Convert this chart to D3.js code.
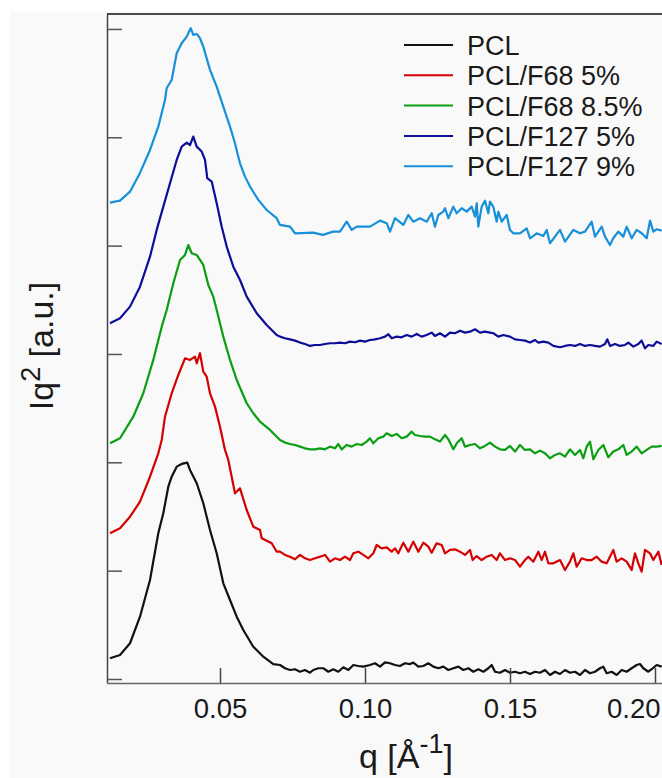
<!DOCTYPE html>
<html>
<head>
<meta charset="utf-8">
<script src="https://cdn.jsdelivr.net/npm/d3@7"></script>
<style>
  html, body { margin: 0; padding: 0; background: #ffffff; }
  svg { display: block; font-family: "Liberation Sans", Arial, sans-serif; }
</style>
</head>
<body>
<svg id="chart" width="662" height="778"></svg>
<script>
// SAXS Kratky-type profiles, Iq^2 vs q, curves stacked with vertical offsets.
const seriesNames = ["PCL", "PCL/F68 5%", "PCL/F68 8.5%", "PCL/F127 5%", "PCL/F127 9%"];
const xTickValues = [0.05, 0.10, 0.15, 0.20];
const xTickLabels = ["0.05", "0.10", "0.15", "0.20"];
const yTickValues = [0, 1, 2, 3, 4, 5, 6];

// [q (1/Å), Iq^2 (a.u., offset)]
const pcl = [
  [0.01207,0.191],[0.01552,0.222],[0.01897,0.330],[0.02241,0.575],[0.02586,0.914],[0.02872,1.345],
  [0.03045,1.530],[0.03217,1.775],[0.03334,1.867],[0.03507,1.960],[0.03679,1.985],[0.03872,1.997],
  [0.03966,1.929],[0.04197,1.807],[0.04424,1.622],[0.04655,1.375],[0.04886,1.160],[0.05114,0.883],
  [0.05345,0.729],[0.05576,0.575],[0.05803,0.452],[0.06148,0.298],[0.06493,0.206],[0.06838,0.138],
  [0.07069,0.129],[0.07241,0.099],[0.07414,0.083],[0.07586,0.090],[0.07759,0.067],[0.07931,0.083],
  [0.08103,0.058],[0.08218,0.083],[0.08391,0.099],[0.08563,0.099],[0.08736,0.067],[0.08908,0.090],
  [0.09080,0.067],[0.09253,0.108],[0.09425,0.083],[0.09598,0.129],[0.09770,0.120],[0.09943,0.114],
  [0.10172,0.129],[0.10345,0.145],[0.10517,0.114],[0.10690,0.154],[0.10862,0.145],[0.11034,0.129],
  [0.11207,0.120],[0.11379,0.145],[0.11552,0.138],[0.11667,0.151],[0.11839,0.114],[0.12011,0.120],
  [0.12184,0.145],[0.12356,0.114],[0.12529,0.099],[0.12701,0.114],[0.12874,0.083],[0.13046,0.099],
  [0.13218,0.114],[0.13391,0.083],[0.13563,0.099],[0.13736,0.067],[0.13908,0.090],[0.14080,0.067],
  [0.14253,0.099],[0.14368,0.129],[0.14483,0.067],[0.14655,0.058],[0.14828,0.083],[0.15000,0.058],
  [0.15172,0.067],[0.15345,0.053],[0.15517,0.067],[0.15690,0.046],[0.15862,0.067],[0.16034,0.058],
  [0.16207,0.083],[0.16379,0.037],[0.16552,0.067],[0.16724,0.046],[0.16897,0.083],[0.17069,0.058],
  [0.17241,0.067],[0.17414,0.037],[0.17586,0.083],[0.17759,0.053],[0.17931,0.067],[0.18103,0.099],
  [0.18218,0.114],[0.18333,0.053],[0.18506,0.067],[0.18678,0.037],[0.18851,0.083],[0.19023,0.067],
  [0.19195,0.099],[0.19368,0.129],[0.19483,0.138],[0.19598,0.099],[0.19770,0.067],[0.19885,0.090],
  [0.20057,0.129],[0.20230,0.114]
];
const f68p5 = [
  [0.01207,1.345],[0.01552,1.391],[0.01897,1.498],[0.02241,1.637],[0.02586,1.867],[0.02872,2.083],
  [0.02990,2.206],[0.03103,2.421],[0.03334,2.637],[0.03562,2.806],[0.03793,2.960],[0.03966,2.945],
  [0.04138,2.975],[0.04197,2.914],[0.04310,3.007],[0.04424,2.837],[0.04541,2.791],[0.04655,2.637],
  [0.04828,2.514],[0.05000,2.329],[0.05172,2.114],[0.05286,2.022],[0.05517,1.714],[0.05690,1.760],
  [0.05921,1.560],[0.06148,1.406],[0.06379,1.375],[0.06438,1.299],[0.06783,1.253],[0.06955,1.175],
  [0.07069,1.175],[0.07241,1.145],[0.07414,1.129],[0.07586,1.105],[0.07759,1.145],[0.07931,1.114],
  [0.08103,1.098],[0.08276,1.114],[0.08448,1.129],[0.08621,1.145],[0.08793,1.083],[0.08966,1.114],
  [0.09138,1.098],[0.09310,1.129],[0.09483,1.098],[0.09598,1.160],[0.09770,1.175],[0.09943,1.145],
  [0.10115,1.114],[0.10287,1.160],[0.10402,1.237],[0.10575,1.206],[0.10747,1.215],[0.10920,1.175],
  [0.11034,1.206],[0.11149,1.160],[0.11322,1.258],[0.11494,1.175],[0.11667,1.268],[0.11839,1.175],
  [0.12011,1.258],[0.12184,1.222],[0.12299,1.166],[0.12471,1.252],[0.12644,1.237],[0.12759,1.160],
  [0.12931,1.191],[0.13103,1.197],[0.13276,1.175],[0.13448,1.145],[0.13621,1.191],[0.13713,1.098],
  [0.13851,1.135],[0.14023,1.098],[0.14195,1.129],[0.14368,1.145],[0.14540,1.098],[0.14655,1.160],
  [0.14828,1.098],[0.15000,1.114],[0.15172,1.098],[0.15345,1.037],[0.15517,1.098],[0.15632,1.129],
  [0.15805,1.083],[0.15977,1.175],[0.16092,1.098],[0.16207,1.175],[0.16322,1.068],[0.16494,1.068],
  [0.16724,1.098],[0.16897,1.006],[0.17069,1.083],[0.17184,1.160],[0.17299,1.037],[0.17471,1.114],
  [0.17644,1.098],[0.17816,1.098],[0.17989,1.129],[0.18161,1.083],[0.18333,1.068],[0.18563,1.191],
  [0.18678,1.083],[0.18851,1.114],[0.19023,1.083],[0.19195,1.006],[0.19310,1.160],[0.19425,1.068],
  [0.19540,0.991],[0.19655,1.191],[0.19828,1.160],[0.19943,1.098],[0.20115,1.175],[0.20230,1.052]
];
const f68p85 = [
  [0.01207,2.176],[0.01552,2.222],[0.02010,2.421],[0.02355,2.637],[0.02700,2.945],[0.02990,3.252],
  [0.03162,3.406],[0.03390,3.653],[0.03621,3.868],[0.03793,3.914],[0.03907,4.006],[0.04024,3.930],
  [0.04197,3.914],[0.04424,3.822],[0.04597,3.637],[0.04769,3.529],[0.04886,3.406],[0.05114,3.160],
  [0.05345,2.945],[0.05576,2.760],[0.05921,2.545],[0.06148,2.453],[0.06379,2.375],[0.06724,2.299],
  [0.07069,2.206],[0.07241,2.182],[0.07414,2.169],[0.07586,2.160],[0.07759,2.145],[0.07931,2.129],
  [0.08103,2.120],[0.08276,2.120],[0.08448,2.129],[0.08621,2.120],[0.08793,2.145],[0.08966,2.129],
  [0.09080,2.169],[0.09195,2.120],[0.09368,2.160],[0.09540,2.145],[0.09713,2.169],[0.09885,2.160],
  [0.10057,2.191],[0.10172,2.222],[0.10287,2.175],[0.10460,2.222],[0.10632,2.237],[0.10747,2.268],
  [0.10920,2.243],[0.11092,2.262],[0.11264,2.222],[0.11437,2.237],[0.11609,2.283],[0.11724,2.252],
  [0.11897,2.243],[0.12069,2.237],[0.12241,2.237],[0.12414,2.212],[0.12586,2.191],[0.12759,2.252],
  [0.12874,2.212],[0.13046,2.120],[0.13161,2.175],[0.13333,2.222],[0.13448,2.145],[0.13621,2.160],
  [0.13793,2.169],[0.13966,2.129],[0.14138,2.151],[0.14310,2.182],[0.14483,2.145],[0.14655,2.120],
  [0.14828,2.114],[0.15000,2.151],[0.15172,2.099],[0.15345,2.160],[0.15517,2.114],[0.15690,2.120],
  [0.15862,2.083],[0.16034,2.108],[0.16207,2.083],[0.16379,2.037],[0.16552,2.068],[0.16724,2.083],
  [0.16897,2.052],[0.17069,2.120],[0.17241,2.068],[0.17414,2.114],[0.17529,2.037],[0.17644,2.145],
  [0.17759,2.191],[0.17874,2.028],[0.18046,2.114],[0.18218,2.160],[0.18391,2.046],[0.18563,2.099],
  [0.18736,2.120],[0.18908,2.160],[0.19023,2.068],[0.19195,2.099],[0.19368,2.145],[0.19540,2.083],
  [0.19713,2.114],[0.19885,2.145],[0.20057,2.145],[0.20230,2.151]
];
const f127p5 = [
  [0.01207,3.283],[0.01552,3.330],[0.01897,3.437],[0.02241,3.621],[0.02586,3.898],[0.02817,4.145],
  [0.03045,4.360],[0.03276,4.576],[0.03507,4.791],[0.03679,4.914],[0.03852,4.951],[0.03966,4.929],
  [0.04079,5.006],[0.04197,4.914],[0.04369,4.868],[0.04483,4.791],[0.04562,4.622],[0.04714,4.591],
  [0.04886,4.391],[0.05059,4.175],[0.05231,3.991],[0.05459,3.806],[0.05690,3.683],[0.05921,3.529],
  [0.06266,3.376],[0.06610,3.268],[0.06955,3.175],
  [0.07069,3.160],[0.07241,3.145],[0.07414,3.135],[0.07586,3.123],[0.07759,3.105],[0.07931,3.092],
  [0.08103,3.074],[0.08276,3.083],[0.08448,3.083],[0.08621,3.092],[0.08793,3.099],[0.08966,3.099],
  [0.09138,3.105],[0.09310,3.099],[0.09483,3.114],[0.09655,3.108],[0.09828,3.123],[0.10000,3.114],
  [0.10172,3.129],[0.10345,3.135],[0.10517,3.145],[0.10690,3.160],[0.10805,3.182],[0.10920,3.145],
  [0.11092,3.160],[0.11264,3.154],[0.11437,3.175],[0.11609,3.160],[0.11782,3.185],[0.11954,3.160],
  [0.12126,3.175],[0.12299,3.197],[0.12414,3.166],[0.12586,3.191],[0.12759,3.160],[0.12931,3.197],
  [0.13103,3.191],[0.13276,3.215],[0.13448,3.197],[0.13621,3.206],[0.13793,3.228],[0.13966,3.197],
  [0.14138,3.206],[0.14310,3.197],[0.14425,3.191],[0.14598,3.160],[0.14770,3.175],[0.15000,3.160],
  [0.15172,3.135],[0.15345,3.129],[0.15517,3.123],[0.15690,3.105],[0.15862,3.129],[0.15977,3.105],
  [0.16149,3.114],[0.16322,3.105],[0.16494,3.074],[0.16724,3.062],[0.16897,3.074],[0.17069,3.083],
  [0.17241,3.074],[0.17414,3.092],[0.17586,3.074],[0.17759,3.083],[0.17931,3.074],[0.18103,3.068],
  [0.18276,3.092],[0.18356,3.135],[0.18448,3.074],[0.18621,3.092],[0.18793,3.074],[0.18966,3.083],
  [0.19081,3.105],[0.19253,3.068],[0.19425,3.092],[0.19540,3.123],[0.19655,3.052],[0.19770,3.083],
  [0.19943,3.074],[0.20057,3.114],[0.20230,3.092]
];
const f127p9 = [
  [0.01207,4.397],[0.01552,4.415],[0.01897,4.498],[0.02241,4.671],[0.02586,4.883],[0.02872,5.098],
  [0.03103,5.345],[0.03162,5.455],[0.03334,5.529],[0.03507,5.776],[0.03679,5.868],[0.03852,5.929],
  [0.03990,6.007],[0.04079,5.945],[0.04197,5.954],[0.04310,5.914],[0.04424,5.837],[0.04655,5.622],
  [0.04886,5.468],[0.05114,5.283],[0.05345,5.098],[0.05517,4.945],[0.05631,4.821],[0.05690,4.760],
  [0.05862,4.637],[0.06034,4.545],[0.06321,4.422],[0.06610,4.329],[0.06955,4.253],[0.07069,4.191],
  [0.07414,4.175],[0.07586,4.114],[0.08207,4.120],[0.08552,4.099],[0.08897,4.129],[0.09138,4.129],
  [0.09369,4.221],[0.09541,4.145],[0.09714,4.175],[0.10172,4.175],[0.10517,4.231],[0.10748,4.207],
  [0.10862,4.129],[0.11034,4.253],[0.11321,4.191],[0.11493,4.283],[0.11666,4.221],[0.11897,4.253],
  [0.12128,4.221],[0.12300,4.299],[0.12414,4.175],[0.12528,4.283],[0.12700,4.314],[0.12759,4.345],
  [0.12872,4.253],[0.13045,4.360],[0.13162,4.299],[0.13334,4.345],[0.13507,4.314],[0.13679,4.360],
  [0.13793,4.268],[0.13852,4.391],[0.13907,4.175],[0.14024,4.360],[0.14138,4.415],[0.14252,4.299],
  [0.14310,4.406],[0.14424,4.360],[0.14541,4.221],[0.14597,4.314],[0.14714,4.221],[0.14886,4.283],
  [0.15000,4.145],[0.15114,4.114],[0.15345,4.114],[0.15576,4.160],[0.15690,4.068],[0.15921,4.114],
  [0.16148,4.089],[0.16266,4.145],[0.16379,4.022],[0.16552,4.083],[0.16724,4.145],[0.16897,4.037],
  [0.17183,4.145],[0.17414,4.114],[0.17586,4.129],[0.17817,4.221],[0.17931,4.083],[0.18162,4.175],
  [0.18276,4.083],[0.18448,4.006],[0.18562,4.068],[0.18734,4.129],[0.18907,4.083],[0.19024,4.175],
  [0.19197,4.068],[0.19369,4.145],[0.19541,4.114],[0.19714,4.068],[0.19828,4.231],[0.19941,4.129],
  [0.20059,4.151],[0.20231,4.138]
];

const seriesData = [pcl, f68p5, f68p85, f127p5, f127p9];
const seriesColors = ["#111111", "#d40000", "#0a9e12", "#0d0d98", "#1690d8"];

const W = 662, H = 778;
const plot = { left: 107, right: 662, top: 14, bottom: 683 };

const svg = d3.select("#chart");

// light panel background
svg.append("rect").attr("x", 10).attr("y", 12).attr("width", W - 10).attr("height", H - 12)
  .attr("fill", "#f9f9f9");

const x = d3.scaleLinear().domain([0.011034, 0.202414]).range([plot.left, plot.right]);
const y = d3.scaleLinear().domain([-0.037, 6.138]).range([plot.bottom, plot.top]);

svg.append("defs").append("clipPath").attr("id", "plotClip")
  .append("rect").attr("x", plot.left).attr("y", plot.top)
  .attr("width", plot.right - plot.left).attr("height", plot.bottom - plot.top);

// curves
const line = d3.line().x(d => x(d[0])).y(d => y(d[1]));
const curves = svg.append("g").attr("clip-path", "url(#plotClip)");
seriesData.forEach((data, i) => {
  curves.append("path").datum(data)
    .attr("d", line)
    .attr("fill", "none")
    .attr("stroke", seriesColors[i])
    .attr("stroke-width", 2.2)
    .attr("stroke-linejoin", "round");
});

// left axis: inward ticks, no labels
const yAxis = d3.axisLeft(y).tickValues(yTickValues).tickSize(-15).tickSizeOuter(0).tickFormat("");
const gy = svg.append("g").attr("transform", `translate(${plot.left},0)`).call(yAxis);
gy.select(".domain").attr("stroke", "#444").attr("stroke-width", 1.5);
gy.selectAll(".tick line").attr("stroke", "#555").attr("stroke-width", 1.5);

// bottom axis: inward ticks, labels below
const xAxis = d3.axisBottom(x).tickValues(xTickValues).tickSize(-15).tickSizeOuter(0)
  .tickPadding(15).tickFormat((d, i) => xTickLabels[i]);
const gx = svg.append("g").attr("transform", `translate(0,${plot.bottom})`).call(xAxis);
gx.select(".domain").attr("stroke", "#666").attr("stroke-width", 1.5);
gx.selectAll(".tick line").attr("stroke", "#444").attr("stroke-width", 1.5);
gx.selectAll(".tick text").attr("font-size", 27.5).attr("fill", "#1a1a1a")
  .attr("font-family", "'Liberation Sans', Arial, sans-serif");
// last label kept inside the right edge
gx.selectAll(".tick text").filter((d, i) => i === xTickValues.length - 1)
  .attr("text-anchor", "end").attr("x", W - 2 - x(xTickValues[xTickValues.length - 1]));

// top frame line
svg.append("line").attr("x1", plot.left).attr("x2", plot.right)
  .attr("y1", plot.top).attr("y2", plot.top)
  .attr("stroke", "#111").attr("stroke-width", 1.5);

// axis titles
const yTitle = svg.append("text")
  .attr("transform", "translate(53,346) rotate(-90)")
  .attr("text-anchor", "middle").attr("font-size", 34).attr("fill", "#1a1a1a");
yTitle.append("tspan").text("Iq");
yTitle.append("tspan").attr("dy", -13).attr("font-size", 27).text("2");
yTitle.append("tspan").attr("dy", 13).text(" [a.u.]");

const xTitle = svg.append("text")
  .attr("x", 359).attr("y", 768)
  .attr("font-size", 34).attr("fill", "#1a1a1a");
xTitle.append("tspan").text("q [Å");
xTitle.append("tspan").attr("dy", -15).attr("font-size", 27).text("-1");
xTitle.append("tspan").attr("dy", 15).text("]");

// legend
const legend = svg.append("g");
seriesNames.forEach((name, i) => {
  const ly = 45 + i * 30.3;
  legend.append("line").attr("x1", 404).attr("x2", 453).attr("y1", ly).attr("y2", ly)
    .attr("stroke", seriesColors[i]).attr("stroke-width", 2);
  legend.append("text").attr("x", 467).attr("y", ly + 10)
    .attr("font-size", 27).attr("fill", "#1a1a1a").text(name);
});
</script>
</body>
</html>
